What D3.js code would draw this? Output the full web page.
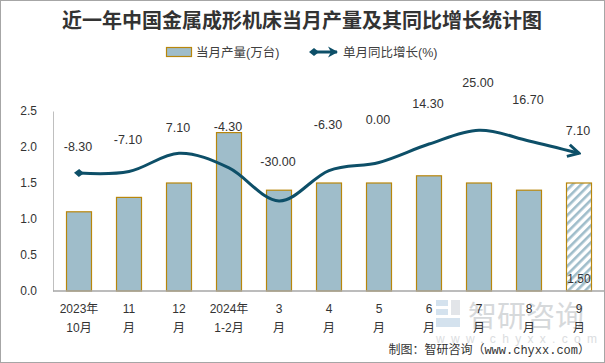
<!DOCTYPE html>
<html>
<head>
<meta charset="utf-8">
<script src="https://cdn.jsdelivr.net/npm/d3@7"></script>
<style>
  body { margin: 0; background: #fff; }
  svg { display: block; font-family: "Liberation Sans", "Noto Sans CJK SC", sans-serif; }
</style>
</head>
<body>
<div id="chart"></div>
<script>
// data
const categories = ['2023-10', '2023-11', '2023-12', '2024-1-2', '2024-3', '2024-4', '2024-5', '2024-6', '2024-7', '2024-8', '2024-9'];
const xLabelTop = ['2023年', '11', '12', '2024年', '3', '4', '5', '6', '7', '8', '9'];
const xLabelBottom = ['10月', '月', '月', '1-2月', '月', '月', '月', '月', '月', '月', '月'];
const production = [1.1, 1.3, 1.5, 2.2, 1.4, 1.5, 1.5, 1.6, 1.5, 1.4, 1.5];
const yoyGrowth = [-8.3, -7.1, 7.1, -4.3, -30, -6.3, 0, 14.3, 25, 16.7, 7.1];
const yTicks = [0, 0.5, 1.0, 1.5, 2.0, 2.5];

// label nudges (px above the line point)
const labelDy = [-26, -32, -26, -41, -39, -46, -43, -40, -48, -41, -23];

const W = 605, H = 363;
const plot = {left: 54, right: 604, top: 111, bottom: 291};
const barColor = '#9fbdca';
const barStroke = '#b8860b';
const lineColor = '#0d4f68';
const textColor = '#333';

// plain hyphen instead of d3's unicode minus
const fmt2 = d => d3.format('.2f')(d).replace('\u2212', '-');

const svg = d3.select('#chart').append('svg')
  .attr('width', W)
  .attr('height', H);

const defs = svg.append('defs');

// hatch for the last bar
const hatch = defs.append('pattern')
  .attr('id', 'hatch')
  .attr('patternUnits', 'userSpaceOnUse')
  .attr('width', 6)
  .attr('height', 6)
  .attr('patternTransform', 'rotate(45)');
hatch.append('rect').attr('width', 6).attr('height', 6).attr('fill', '#fff');
hatch.append('rect').attr('width', 2.6).attr('height', 6).attr('fill', barColor);

defs.append('marker')
  .attr('id', 'diamond')
  .attr('markerUnits', 'userSpaceOnUse')
  .attr('viewBox', '-5 -5 10 10')
  .attr('markerWidth', 10)
  .attr('markerHeight', 10)
  .attr('orient', 'auto')
  .append('path')
  .attr('d', 'M-5,0L0,-4L5,0L0,4Z')
  .attr('fill', lineColor);

defs.append('marker')
  .attr('id', 'arrowOpen')
  .attr('markerUnits', 'userSpaceOnUse')
  .attr('viewBox', '-14 -8 16 16')
  .attr('markerWidth', 16)
  .attr('markerHeight', 16)
  .attr('orient', 'auto')
  .append('path')
  .attr('d', 'M-11,-6L0,0L-11,6')
  .attr('fill', 'none')
  .attr('stroke', lineColor)
  .attr('stroke-width', 3)
  .attr('stroke-linejoin', 'miter');

defs.append('marker')
  .attr('id', 'arrowSolid')
  .attr('markerUnits', 'userSpaceOnUse')
  .attr('viewBox', '-10 -6 12 12')
  .attr('markerWidth', 12)
  .attr('markerHeight', 12)
  .attr('orient', 'auto')
  .append('path')
  .attr('d', 'M-9,-5.5L1,0L-9,5.5L-6,0Z')
  .attr('fill', lineColor);

// outer frame
svg.append('rect')
  .attr('x', 0.5).attr('y', 0.5)
  .attr('width', W - 1).attr('height', H - 1)
  .attr('fill', '#fff')
  .attr('stroke', '#a6a6a6');

// title
svg.append('text')
  .attr('x', 302)
  .attr('y', 28)
  .attr('text-anchor', 'middle')
  .attr('font-family', '"Noto Sans CJK SC", sans-serif')
  .attr('font-weight', 'bold')
  .attr('font-size', 20)
  .attr('fill', textColor)
  .text('近一年中国金属成形机床当月产量及其同比增长统计图');

// legend
const legend = svg.append('g').attr('font-size', 12.5).attr('fill', '#404040');
legend.append('rect')
  .attr('x', 166.5).attr('y', 47.5)
  .attr('width', 25).attr('height', 9)
  .attr('fill', barColor)
  .attr('stroke', barStroke)
  .attr('stroke-width', 1.2);
legend.append('text')
  .attr('x', 196).attr('y', 56.5)
  .text('当月产量(万台)');
legend.append('line')
  .attr('x1', 314).attr('y1', 52)
  .attr('x2', 337).attr('y2', 52)
  .attr('stroke', lineColor)
  .attr('stroke-width', 3)
  .attr('marker-start', 'url(#diamond)')
  .attr('marker-end', 'url(#arrowSolid)');
legend.append('text')
  .attr('x', 343).attr('y', 56.5)
  .text('单月同比增长(%)');

// scales
const x = d3.scaleBand()
  .domain(categories)
  .range([plot.left, plot.right])
  .paddingInner(0.5)
  .paddingOuter(0.25);

const y = d3.scaleLinear()
  .domain([0, 2.5])
  .range([plot.bottom, plot.top]);

// hidden secondary axis for the growth line
const y2 = d3.scaleLinear()
  .domain([-100, 40])
  .range([plot.bottom, plot.top]);

// watermark
const wm = svg.append('g').attr('opacity', 0.6);
wm.append('rect').attr('x', 436).attr('y', 300).attr('width', 12).attr('height', 6).attr('fill', '#b9cfe4');
wm.append('rect').attr('x', 436).attr('y', 309).attr('width', 12).attr('height', 6).attr('fill', '#b9cfe4');
wm.append('rect').attr('x', 436).attr('y', 318).attr('width', 24).attr('height', 9).attr('fill', '#b9cfe4');
wm.append('rect').attr('x', 451).attr('y', 300).attr('width', 9).attr('height', 15).attr('fill', '#cfd5db');
wm.append('text')
  .attr('x', 468).attr('y', 327)
  .attr('font-family', '"Noto Sans CJK SC", sans-serif')
  .attr('font-size', 29)
  .attr('fill', '#bcc0c4')
  .text('智研咨询');
wm.append('text')
  .attr('x', 436).attr('y', 343)
  .attr('font-size', 12)
  .attr('letter-spacing', 6.3)
  .attr('fill', '#c4c8cc')
  .text('www.chyxx.com');

// bars
svg.append('g')
  .selectAll('rect')
  .data(production)
  .join('rect')
  .attr('x', (d, i) => x(categories[i]))
  .attr('y', d => y(d))
  .attr('width', x.bandwidth())
  .attr('height', d => y(0) - y(d))
  .attr('fill', (d, i) => i === production.length - 1 ? 'url(#hatch)' : barColor)
  .attr('stroke', barStroke)
  .attr('stroke-width', 1.2);

// value label inside the last bar
const lastI = production.length - 1;
svg.append('text')
  .attr('x', x(categories[lastI]) + x.bandwidth() / 2)
  .attr('y', y(0) - 8)
  .attr('text-anchor', 'middle')
  .attr('font-size', 12)
  .attr('fill', textColor)
  .text(fmt2(production[lastI]));

// axes
const yAxis = svg.append('g')
  .attr('transform', `translate(${plot.left - 1},0)`)
  .call(d3.axisLeft(y).tickValues(yTicks).tickSize(0).tickPadding(16).tickFormat(d3.format('.1f')));
yAxis.select('.domain').attr('stroke', '#bfbfbf').attr('stroke-width', 1);
yAxis.selectAll('text').attr('font-size', 12).attr('fill', textColor)
  .attr('font-family', '"Liberation Sans", sans-serif');

const xAxis = svg.append('g')
  .attr('transform', `translate(0,${plot.bottom})`)
  .call(d3.axisBottom(x).tickSize(0).tickFormat(''));
xAxis.select('.domain')
  .attr('d', `M${plot.left - 1},0H${plot.right}`)
  .attr('stroke', '#a6a6a6')
  .attr('stroke-width', 1.5);

const xLabels = svg.append('g')
  .attr('font-size', 12)
  .attr('fill', textColor)
  .attr('text-anchor', 'middle');
categories.forEach((c, i) => {
  const cx = x(c) + x.bandwidth() / 2;
  xLabels.append('text').attr('x', cx).attr('y', 313).text(xLabelTop[i]);
  xLabels.append('text').attr('x', cx).attr('y', 332).text(xLabelBottom[i]);
});

// growth line
const line = d3.line()
  .x((d, i) => x(categories[i]) + x.bandwidth() / 2)
  .y(d => y2(d))
  .curve(d3.curveCardinal.tension(0));

svg.append('path')
  .datum(yoyGrowth)
  .attr('d', line)
  .attr('fill', 'none')
  .attr('stroke', lineColor)
  .attr('stroke-width', 3)
  .attr('marker-start', 'url(#diamond)')
  .attr('marker-end', 'url(#arrowOpen)');

// growth labels
svg.append('g')
  .attr('font-size', 12.5)
  .attr('fill', textColor)
  .attr('text-anchor', 'middle')
  .selectAll('text')
  .data(yoyGrowth)
  .join('text')
  .attr('x', (d, i) => x(categories[i]) + x.bandwidth() / 2 - 1)
  .attr('y', (d, i) => y2(d) + labelDy[i])
  .attr('dy', '0.35em')
  .text(fmt2);

// source note
svg.append('text')
  .attr('x', 590)
  .attr('y', 354)
  .attr('text-anchor', 'end')
  .attr('font-family', '"Liberation Mono", "Noto Sans CJK SC", monospace')
  .attr('font-size', 12)
  .attr('fill', textColor)
  .text('制图：智研咨询（www.chyxx.com）');
</script>
</body>
</html>
